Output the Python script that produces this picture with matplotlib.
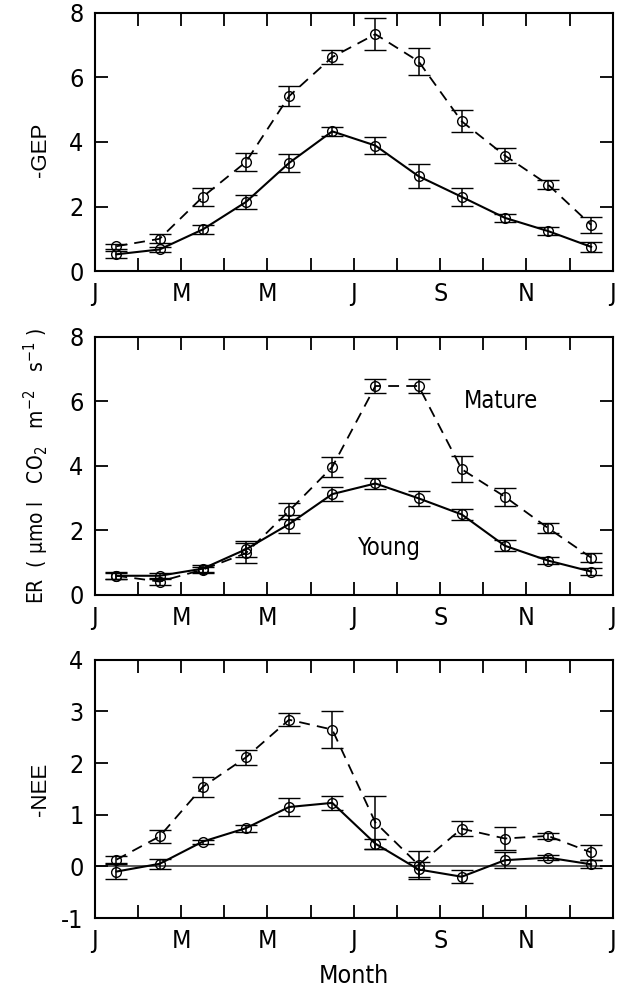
"""Seasonal GEP / ER / NEE for young vs mature stands (three stacked panels)."""

import matplotlib

matplotlib.use("Agg")
import matplotlib.pyplot as plt
from matplotlib import font_manager
from matplotlib.font_manager import FontProperties


def _narrow_file():
    # a condensed upright sans, if one is installed
    for f in font_manager.fontManager.ttflist:
        fn = f.fname.lower()
        if ("condensed" in fn or "narrow" in fn) and f.style == "normal" \
                and f.weight in (400, "normal", "regular") and "bold" not in fn:
            return f.fname
    return None


NARROW_FILE = _narrow_file()


def fp(size):
    if NARROW_FILE:
        return FontProperties(fname=NARROW_FILE, size=size)
    return FontProperties(family="Liberation Sans", size=size)


plt.rcParams["font.family"] = ["Liberation Sans", "DejaVu Sans"]
plt.rcParams["mathtext.default"] = "regular"
plt.rcParams["axes.unicode_minus"] = False

# mid-month positions (months since 1 Jan)
months = [0.5, 1.5, 2.5, 3.5, 4.5, 5.5, 6.5, 7.5, 8.5, 9.5, 10.5, 11.5]
month_labels = ["J", "", "M", "", "M", "", "J", "", "S", "", "N", "", "J"]

gep_young = [0.52, 0.67, 1.29, 2.14, 3.35, 4.33, 3.89, 2.94, 2.30, 1.65, 1.24, 0.75]
gep_young_err = [0.11, 0.07, 0.13, 0.23, 0.27, 0.14, 0.25, 0.38, 0.27, 0.13, 0.12, 0.16]
gep_mature = [0.77, 1.00, 2.30, 3.38, 5.42, 6.63, 7.34, 6.50, 4.64, 3.58, 2.68, 1.43]
gep_mature_err = [0.08, 0.14, 0.27, 0.28, 0.30, 0.22, 0.50, 0.41, 0.34, 0.22, 0.14, 0.24]

er_young = [0.59, 0.59, 0.81, 1.41, 2.19, 3.12, 3.45, 2.99, 2.49, 1.52, 1.06, 0.72]
er_young_err = [0.11, 0.10, 0.12, 0.25, 0.27, 0.21, 0.17, 0.24, 0.18, 0.17, 0.12, 0.11]
er_mature = [0.59, 0.41, 0.78, 1.29, 2.60, 3.96, 6.47, 6.47, 3.89, 3.04, 2.07, 1.15]
er_mature_err = [0.10, 0.12, 0.08, 0.30, 0.26, 0.31, 0.23, 0.23, 0.40, 0.28, 0.15, 0.13]

nee_young = [-0.10, 0.05, 0.48, 0.74, 1.15, 1.23, 0.44, -0.06, -0.20, 0.12, 0.17, 0.04]
nee_young_err = [0.15, 0.10, 0.04, 0.07, 0.17, 0.13, 0.10, 0.15, 0.13, 0.15, 0.05, 0.08]
nee_mature = [0.13, 0.58, 1.54, 2.11, 2.84, 2.65, 0.85, 0.03, 0.73, 0.54, 0.59, 0.27]
nee_mature_err = [0.07, 0.13, 0.20, 0.14, 0.13, 0.35, 0.52, 0.27, 0.15, 0.22, 0.05, 0.15]


def draw_panel(ax, young, young_err, mature, mature_err, ylim, yticks):
    common = dict(fmt="o", color="k", mfc="none", ms=7, mew=1.0,
                  elinewidth=1.1, capsize=8, capthick=2.0)
    ax.errorbar(months, mature, yerr=mature_err, ls=(0, (6, 4)), lw=1.3, **common)
    ax.errorbar(months, young, yerr=young_err, ls="-", lw=1.5, **common)
    ax.set_xlim(0, 12)
    ax.set_ylim(*ylim)
    ax.set_yticks(yticks)
    ax.set_yticklabels([str(v) for v in yticks])
    ax.set_xticks(range(13))
    ax.set_xticklabels(month_labels)
    ax.tick_params(direction="in", top=True, right=True, length=9.5, width=1.3, pad=8)
    for lab in ax.get_xticklabels() + ax.get_yticklabels():
        lab.set_fontproperties(fp(18))
    for sp in ax.spines.values():
        sp.set_linewidth(1.5)


fig = plt.figure(figsize=(6.24, 9.93), dpi=100)
left, width, height = 0.152, 0.830, 0.260
ax1 = fig.add_axes([left, 0.727, width, height])
ax2 = fig.add_axes([left, 0.401, width, height])
ax3 = fig.add_axes([left, 0.0755, width, height])

draw_panel(ax1, gep_young, gep_young_err, gep_mature, gep_mature_err, (0, 8), [0, 2, 4, 6, 8])
draw_panel(ax2, er_young, er_young_err, er_mature, er_mature_err, (0, 8), [0, 2, 4, 6, 8])
draw_panel(ax3, nee_young, nee_young_err, nee_mature, nee_mature_err, (-1, 4), [-1, 0, 1, 2, 3, 4])
ax3.axhline(0, color="0.3", lw=1.3, zorder=0)

ax1.set_ylabel("-GEP", fontsize=16)
ax2.set_ylabel(r"ER  ( $\mu$mo l   CO$_2$   m$^{ -2}$   s$^{ -1}$ )", fontproperties=fp(15))
ax3.set_ylabel("-NEE", fontsize=16)
ax1.yaxis.set_label_coords(-0.085, 0.47)
ax2.yaxis.set_label_coords(-0.085, 0.5)
ax3.yaxis.set_label_coords(-0.085, 0.5)

ax2.text(8.55, 6.0, "Mature", fontproperties=fp(17), va="center", ha="left")
ax2.text(6.1, 1.45, "Young", fontproperties=fp(17), va="center", ha="left")

ax3.set_xlabel("Month", fontproperties=fp(18), labelpad=8)

fig.savefig("out.png", dpi=100)
